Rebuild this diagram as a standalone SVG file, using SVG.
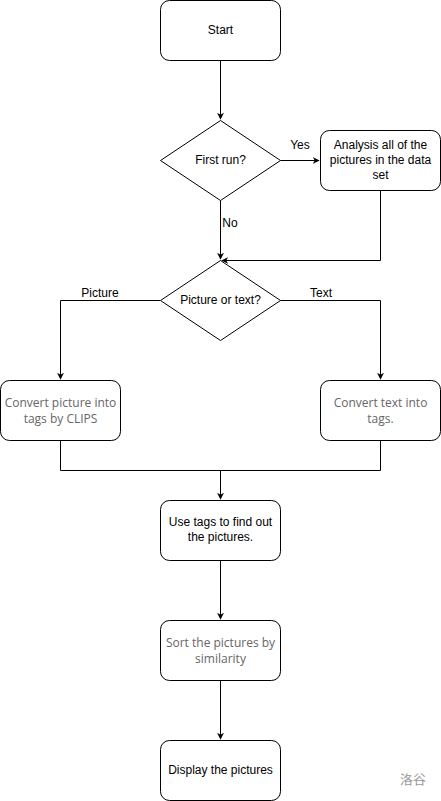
<svg xmlns="http://www.w3.org/2000/svg" width="441" height="801" viewBox="0 0 441 801">
<defs>
<marker id="arr" viewBox="0 0 10 10" refX="9" refY="5" markerWidth="7" markerHeight="7" markerUnits="userSpaceOnUse" orient="auto">
<path d="M0,0 L10,5 L0,10 L3,5 Z" fill="#000"/>
</marker>
</defs>
<style>
.box{fill:#fff;stroke:#000;stroke-width:1}
.t{font-family:"Liberation Sans",Arial,sans-serif;font-size:12px;fill:#000;text-anchor:middle}
.g{font-family:"Open Sans","Noto Sans",sans-serif;font-size:12px;fill:#666;text-anchor:middle}
.lbl{font-family:"Liberation Sans",Arial,sans-serif;font-size:12px;fill:#000;text-anchor:middle}
.c{fill:none;stroke:#000;stroke-width:1}
</style>
<rect width="441" height="801" fill="#fff"/>
<g id="connectors">
<path class="c" d="M220.5,60.5 V119" marker-end="url(#arr)"/>
<path class="c" d="M280.5,160.5 H319" marker-end="url(#arr)"/>
<path class="c" d="M220.5,200.5 V259" marker-end="url(#arr)"/>
<path class="c" d="M380.5,190.5 V260.5 H222" marker-end="url(#arr)"/>
<path class="c" d="M160.5,300.5 H60.5 V379" marker-end="url(#arr)"/>
<path class="c" d="M280.5,300.5 H380.5 V379" marker-end="url(#arr)"/>
<path class="c" d="M60.5,440.5 V470.5 H380.5 V440.5"/>
<path class="c" d="M220.5,470.5 V499" marker-end="url(#arr)"/>
<path class="c" d="M220.5,560.5 V619" marker-end="url(#arr)"/>
<path class="c" d="M220.5,680.5 V739" marker-end="url(#arr)"/>
<text class="lbl" x="300" y="149">Yes</text>
<text class="lbl" x="230" y="227">No</text>
<text class="lbl" x="100" y="297">Picture</text>
<text class="lbl" x="321" y="297">Text</text>
</g>
<g id="start">
<rect class="box" x="160.5" y="0.5" width="120" height="60" rx="9"/>
<text class="t" x="220.5" y="34">Start</text>
</g>
<g id="first-run">
<path class="box" d="M220.5,120.5 L280.5,160.5 L220.5,200.5 L160.5,160.5 Z"/>
<text class="t" x="220.5" y="164">First run?</text>
</g>
<g id="analysis">
<rect class="box" x="320.5" y="130.5" width="120" height="60" rx="9"/>
<text class="t" x="380.5" y="149">Analysis all of the</text>
<text class="t" x="380.5" y="164">pictures in the data</text>
<text class="t" x="380.5" y="179">set</text>
</g>
<g id="picture-or-text">
<path class="box" d="M220.5,260.5 L280.5,300.5 L220.5,340.5 L160.5,300.5 Z"/>
<text class="t" x="220.5" y="304">Picture or text?</text>
</g>
<g id="convert-picture">
<rect class="box" x="0.5" y="380.5" width="120" height="60" rx="9"/>
<text class="g" x="60.5" y="407">Convert picture into</text>
<text class="g" x="60.5" y="423">tags by CLIPS</text>
</g>
<g id="convert-text">
<rect class="box" x="320.5" y="380.5" width="120" height="60" rx="9"/>
<text class="g" x="380.5" y="407">Convert text into</text>
<text class="g" x="380.5" y="423">tags.</text>
</g>
<g id="use-tags">
<rect class="box" x="160.5" y="500.5" width="120" height="60" rx="9"/>
<text class="t" x="220.5" y="526">Use tags to find out</text>
<text class="t" x="220.5" y="541">the pictures.</text>
</g>
<g id="sort">
<rect class="box" x="160.5" y="620.5" width="120" height="60" rx="9"/>
<text class="g" x="220.5" y="647">Sort the pictures by</text>
<text class="g" x="220.5" y="663">similarity</text>
</g>
<g id="display">
<rect class="box" x="160.5" y="740.5" width="120" height="60" rx="9"/>
<text class="t" x="220.5" y="774">Display the pictures</text>
</g>
<text x="413" y="784" font-family="'Noto Sans CJK SC',sans-serif" font-size="13" fill="#999" text-anchor="middle">洛谷</text>
</svg>
